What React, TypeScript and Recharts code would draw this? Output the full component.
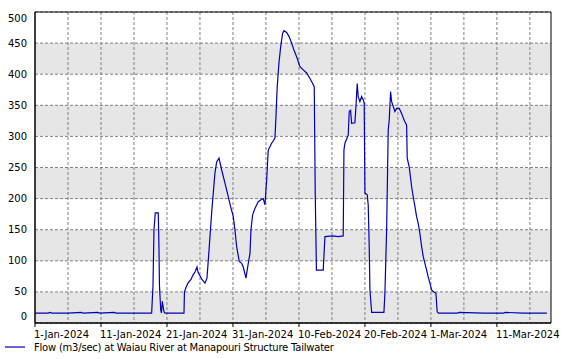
import React from "react";
import {
  LineChart,
  Line,
  XAxis,
  YAxis,
  CartesianGrid,
  ReferenceArea,
  Legend,
} from "recharts";

// ---------------------------------------------------------------------------
// Data: days since 1-Jan-2024 00:00, flow in m3/sec
// ---------------------------------------------------------------------------

const flowDays = [
  0, 2, 2.3, 2.6, 5, 7, 7.3, 9.5, 9.8, 12, 12.3, 15, 17.68,
  17.88, 18.03, 18.23, 18.68, 18.79, 18.86, 19.05, 19.17, 19.29, 19.44, 19.55, 19.7,
  21, 22.58, 22.65, 22.88, 23.18, 23.64, 23.94, 24.24, 24.55, 24.7, 25.0, 25.3, 25.76,
  26.06, 26.26, 26.52, 26.77, 27.02, 27.27, 27.53, 27.88, 28.29, 28.79, 29.29, 29.65,
  30.05, 30.3, 30.56, 30.95, 31.32, 31.56, 31.97, 32.32, 32.58, 32.73, 32.98, 33.33,
  33.83, 34.35, 34.59, 34.85, 35.11, 35.35, 35.86, 36.36, 36.52, 36.71, 36.97, 37.23,
  37.53, 37.73, 38.14, 38.53, 38.89, 39.24, 39.65, 40.15, 40.65, 41.17, 41.67, 42.08,
  42.32, 42.47, 42.65, 43.68, 43.94, 45.15, 45.91, 46.71, 46.82, 46.97, 47.47, 47.62,
  47.83, 47.98, 48.48, 48.64, 48.83, 48.98, 49.24, 49.5, 49.74, 49.89, 50.0, 50.35,
  50.5, 50.65, 50.76, 51.02, 52.88, 53.03, 53.29, 53.53, 53.68, 53.89, 54.05, 54.29,
  54.55, 54.8, 55.2, 55.56, 55.95, 56.32, 56.41, 56.71, 57.08, 57.32, 57.58, 57.83,
  58.08, 58.33, 58.59, 58.83, 59.09, 59.35, 59.59, 59.85, 60.11, 60.45, 60.76, 60.95,
  61.14, 64, 64.3, 68, 71, 71.3, 74, 77.58,
];

const flowValues = [
  16, 16, 17, 16, 16, 17, 16, 17, 16, 17, 16, 16, 16,
  60, 150, 177, 177, 120, 61, 21, 16, 35, 25, 18, 16,
  16, 16, 50, 57, 64, 70, 77, 82, 90, 82, 76, 70, 64,
  72, 100, 139, 177, 209, 241, 259, 265, 246, 225, 203, 187,
  171, 150, 123, 99, 96, 90, 72, 96, 112, 150, 174, 184,
  195, 199, 200, 190, 230, 278, 289, 297, 332, 380, 418, 444,
  466, 470, 467, 460, 450, 439, 428, 412, 407, 402, 393, 385,
  380, 209, 85, 85, 139, 140, 139, 140, 278, 289, 302, 340,
  342, 321, 322, 348, 385, 364, 356, 364, 359, 353, 209, 206,
  190, 123, 53, 17, 17, 48, 150, 310, 326, 372, 356, 348,
  340, 345, 345, 337, 326, 318, 265, 251, 219, 203, 187, 171,
  160, 144, 123, 107, 96, 85, 74, 64, 53, 50, 48, 18,
  16, 16, 17, 16, 16, 17, 16, 16,
];

const xTickDays = [0, 10, 20, 30, 40, 50, 60, 70];
const xTickLabels = [
  "1-Jan-2024",
  "11-Jan-2024",
  "21-Jan-2024",
  "31-Jan-2024",
  "10-Feb-2024",
  "20-Feb-2024",
  "1-Mar-2024",
  "11-Mar-2024",
];
const xGridDays = [5, 10, 15, 20, 25, 30, 35, 40, 45, 50, 55, 60, 65, 70, 75];
const yTicks = [0, 50, 100, 150, 200, 250, 300, 350, 400, 450, 500];

const seriesName = "Flow (m3/sec) at Waiau River at Manapouri Structure Tailwater";

const data = flowDays.map((day, i) => ({ day, flow: flowValues[i] }));

const LINE_COLOR = "#0000b8";
const FONT = "'DejaVu Sans', Verdana, sans-serif";

function XTick({ x, y, payload }: { x?: number; y?: number; payload?: { value: number } }) {
  const idx = xTickDays.indexOf(payload?.value ?? -1);
  return (
    <text x={(x ?? 0) - 1} y={(y ?? 0) + 9} textAnchor="start" fontSize={10} fontFamily={FONT} fill="#000">
      {xTickLabels[idx] ?? ""}
    </text>
  );
}

function YTick({ x, y, payload }: { x?: number; y?: number; payload?: { value: number } }) {
  const v = payload?.value ?? 0;
  // edge labels are nudged inside the plot, as in the original
  const shift = v === 500 ? 6.5 : v === 0 ? -6.5 : 0;
  return (
    <text
      x={x}
      y={(y ?? 0) + shift}
      textAnchor="end"
      dominantBaseline="central"
      fontSize={10}
      fontFamily={FONT}
      fill="#000"
    >
      {v}
    </text>
  );
}

function LegendContent() {
  return (
    <svg width={400} height={16}>
      <line x1={5} x2={25} y1={8} y2={8} stroke={LINE_COLOR} strokeWidth={1.2} />
      <text
        x={34}
        y={8}
        dominantBaseline="central"
        fontSize={10}
        fontFamily={FONT}
        letterSpacing={-0.22}
        fill="#000"
      >
        {seriesName}
      </text>
    </svg>
  );
}

export default function App() {
  return (
    <div style={{ position: "absolute", left: 0, top: 0, width: 569, height: 359, background: "#fff" }}>
      <LineChart
        width={569}
        height={359}
        data={data}
        margin={{ top: 12, right: 18, left: 0, bottom: 0 }}
      >
        <CartesianGrid
          stroke="#808080"
          strokeDasharray="3 2"
          verticalValues={xGridDays}
          horizontalValues={yTicks}
          horizontalFill={["#ffffff", "#e6e6e6"]}
        />
        <XAxis
          type="number"
          dataKey="day"
          domain={[0, 78.2]}
          ticks={xTickDays}
          interval={0}
          height={36}
          tickSize={4}
          tickMargin={2}
          tickLine={{ stroke: "#000" }}
          axisLine={{ stroke: "#000" }}
          tick={<XTick />}
          allowDataOverflow
        />
        <YAxis
          type="number"
          domain={[0, 500]}
          ticks={yTicks}
          interval={0}
          width={35}
          tickLine={false}
          axisLine={{ stroke: "#000" }}
          tick={<YTick />}
          allowDataOverflow
        />
        <ReferenceArea x1={0} x2={78.2} y1={0} y2={500} fill="none" stroke="#000" strokeWidth={1} />
        <Line
          type="linear"
          dataKey="flow"
          stroke={LINE_COLOR}
          strokeWidth={1.2}
          dot={false}
          isAnimationActive={false}
        />
        <Legend
          verticalAlign="middle"
          content={<LegendContent />}
          wrapperStyle={{ left: 0, top: 339, width: 400, height: 16 }}
        />
      </LineChart>
    </div>
  );
}
